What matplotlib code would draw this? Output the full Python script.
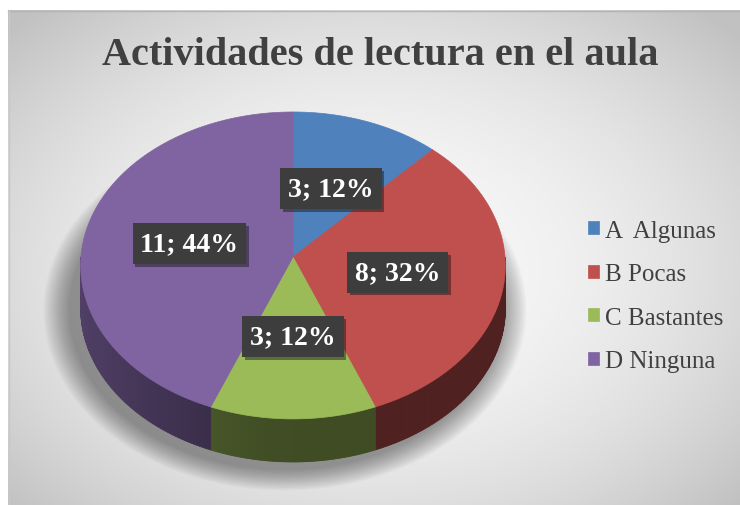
import numpy as np
import matplotlib
matplotlib.use("Agg")
import matplotlib.pyplot as plt
from matplotlib.patches import Polygon, Ellipse
import matplotlib.patheffects as pe
from matplotlib.colors import to_rgb

title = "Actividades de lectura en el aula"
labels = ["A  Algunas", "B Pocas", "C Bastantes", "D Ninguna"]
values = [3, 8, 3, 11]
colors = ["#4F81BD", "#C0504D", "#9BBB59", "#8064A2"]

# pie geometry in pixels
cx, cy = 293, 258
rx, ry = 212, 153
persp = 0.055
depth = 43


def proj(theta, r=1.0):
    t = np.radians(theta)
    u = r * np.cos(t)
    v = -r * np.sin(t)
    d = 1 - persp * v
    return cx + rx * u / d, cy + ry * v / d


fig = plt.figure(figsize=(7.4, 5.06), dpi=100)
ax = fig.add_axes([0, 0, 1, 1])
ax.set_xlim(0, 740)
ax.set_ylim(506, 0)
ax.axis("off")

# background radial gradient
gx, gy = np.meshgrid(np.linspace(8, 740, 400), np.linspace(11, 506, 300))
rr = ((gx - 370) / 370) ** 2 + ((gy - 270) / 260) ** 2
shade = np.clip(0.975 - 0.12 * rr, 0.76, 1)
ax.imshow(np.dstack([shade] * 3), extent=(8, 740, 506, 11), zorder=0, aspect="auto")
ax.plot([8, 740], [11.5, 11.5], color="#b4b4b4", lw=1, zorder=1)
ax.plot([8.5, 8.5], [11, 506], color="#c8c8c8", lw=1, zorder=1)

# soft shadow under the pie
for k in range(18):
    ax.add_patch(Ellipse((cx - 8, cy + depth + 10), 2 * rx + 8 + 3 * k, 2 * ry + 14 + 2.4 * k,
                         color="black", alpha=0.022, lw=0, zorder=2))

fracs = np.array(values) / sum(values)
bounds = 90 - 360 * np.concatenate([[0], np.cumsum(fracs)])

# side walls
for i, col in enumerate(colors):
    ts = np.linspace(bounds[i], bounds[i + 1], 200)
    base = np.array(to_rgb(col))
    for j in range(len(ts) - 1):
        tm = 0.5 * (ts[j] + ts[j + 1])
        if np.sin(np.radians(tm)) > 0.002:
            continue
        u = np.cos(np.radians(tm))
        f = 0.41 + 0.22 * max(0.0, -u) ** 1.5
        c = base * f
        x0, y0 = proj(ts[j])
        x1, y1 = proj(ts[j + 1])
        poly = Polygon([(x0, y0), (x1, y1), (x1, y1 + depth), (x0, y0 + depth)],
                       facecolor=c, edgecolor=c, lw=0.6, zorder=3)
        ax.add_patch(poly)

# top faces
tops = []
for i, col in enumerate(colors):
    ts = np.linspace(bounds[i], bounds[i + 1], 150)
    xs, ys = proj(ts)
    pts = [(cx, cy)] + list(zip(xs, ys))
    p = Polygon(pts, closed=True, facecolor=col, edgecolor=col, lw=0.5, zorder=4)
    ax.add_patch(p)
    tops.append(p)

# data labels
for i in range(len(values)):
    mid = 0.5 * (bounds[i] + bounds[i + 1])
    lx, ly = proj(mid, 0.5)
    t = ax.text(lx, ly + 1, f"{values[i]}; {fracs[i] * 100:.0f}%", ha="center", va="center",
                family="Liberation Serif", weight="bold", fontsize=20, color="white", zorder=6,
                bbox=dict(boxstyle="square,pad=0.28", facecolor="#3d3d3d", edgecolor="none"))
    t.get_bbox_patch().set_path_effects([pe.SimplePatchShadow(offset=(2, -2), alpha=0.45),
                                         pe.Normal()])

ax.text(380, 55, title, ha="center", va="center", family="Liberation Serif",
        weight="bold", fontsize=29, color="#404040", zorder=6)

leg = ax.legend(handles=tops, labels=labels, loc="center left",
                bbox_to_anchor=(588 / 740, 1 - 297 / 506), frameon=False,
                borderpad=0, borderaxespad=0, handlelength=0.42, handleheight=0.42,
                handletextpad=0.25, labelspacing=0.86,
                prop={"family": "Liberation Serif", "size": 18})
for txt in leg.get_texts():
    txt.set_color("#404040")

fig.savefig("out.png", dpi=100, facecolor="white")
